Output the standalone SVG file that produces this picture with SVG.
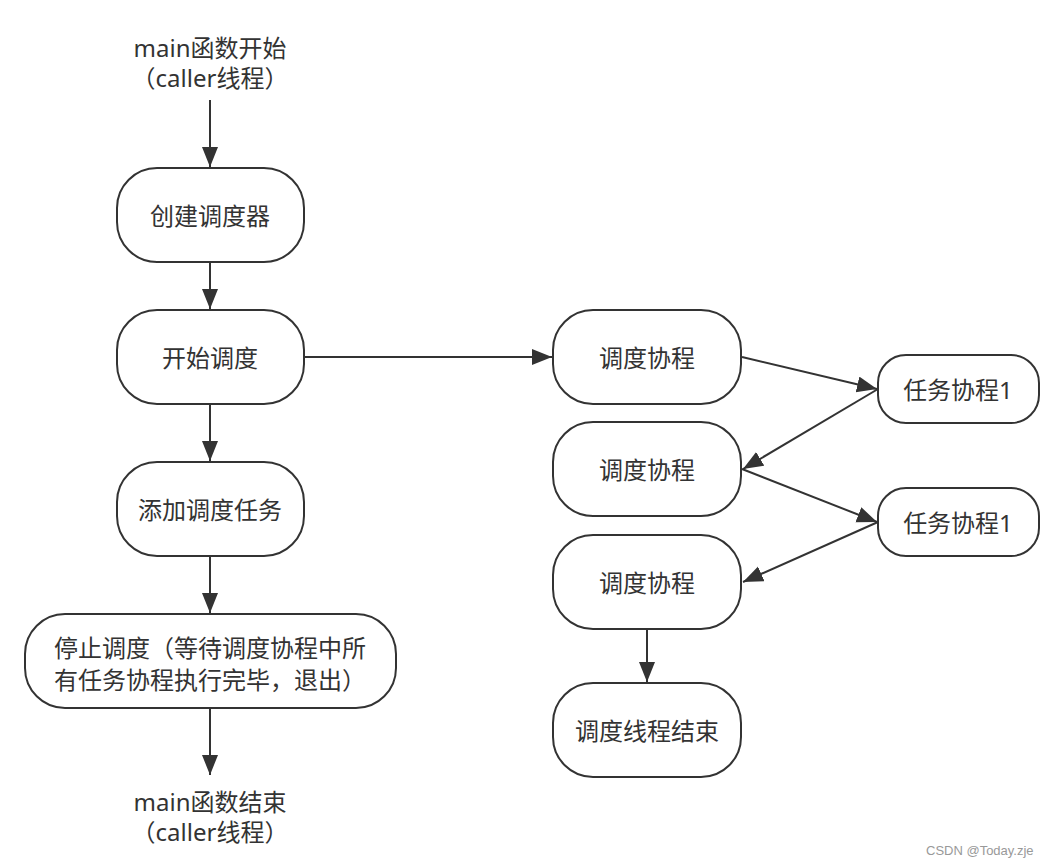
<svg xmlns="http://www.w3.org/2000/svg" width="1056" height="867" viewBox="0 0 1056 867">
<style>
.n{fill:#fff;stroke:#333;stroke-width:2}
.t{font-family:"Noto Sans","Noto Sans CJK SC",sans-serif;font-size:24px;fill:#333;text-anchor:middle;dominant-baseline:central}
.e{fill:none;stroke:#333;stroke-width:2;marker-end:url(#ah)}
.w{font-family:"Liberation Sans",sans-serif;font-size:13px;fill:#999}
</style>
<defs>
<marker id="ah" markerUnits="userSpaceOnUse" markerWidth="22" markerHeight="18" refX="20" refY="8" orient="auto">
<path d="M0,0 L20,8 L0,16 z" fill="#333"/>
</marker>
</defs>
<rect width="1056" height="867" fill="#fff"/>
<g id="connectors">
<line class="e" x1="210" y1="100" x2="210" y2="167"/>
<line class="e" x1="210" y1="263" x2="210" y2="309"/>
<line class="e" x1="210" y1="405" x2="210" y2="461"/>
<line class="e" x1="210" y1="557" x2="210" y2="613"/>
<line class="e" x1="210" y1="709" x2="210" y2="775"/>
<line class="e" x1="305" y1="357" x2="552" y2="357"/>
<line class="e" x1="742" y1="357" x2="877" y2="389"/>
<line class="e" x1="878" y1="389" x2="743" y2="469"/>
<line class="e" x1="742" y1="469" x2="877" y2="522"/>
<line class="e" x1="878" y1="522" x2="743" y2="582"/>
<line class="e" x1="647" y1="630" x2="647" y2="682"/>
</g>
<g id="start"><text class="t" x="210" y="47">main函数开始<tspan x="210" dy="30">（caller线程）</tspan></text></g>
<g id="create"><rect class="n" x="117" y="168" width="187" height="94" rx="40"/><text class="t" x="210" y="215">创建调度器</text></g>
<g id="begin"><rect class="n" x="117" y="310" width="187" height="94" rx="40"/><text class="t" x="210" y="357">开始调度</text></g>
<g id="add"><rect class="n" x="117" y="462" width="187" height="94" rx="40"/><text class="t" x="210" y="509">添加调度任务</text></g>
<g id="stop"><rect class="n" x="25" y="614" width="371" height="94" rx="40"/><text class="t" x="210" y="647">停止调度（等待调度协程中所<tspan x="210" dy="32">有任务协程执行完毕，退出）</tspan></text></g>
<g id="end"><text class="t" x="210" y="801">main函数结束<tspan x="210" dy="30">（caller线程）</tspan></text></g>
<g id="sched1"><rect class="n" x="553" y="310" width="188" height="94" rx="40"/><text class="t" x="647" y="357">调度协程</text></g>
<g id="sched2"><rect class="n" x="553" y="422" width="188" height="94" rx="40"/><text class="t" x="647" y="469">调度协程</text></g>
<g id="sched3"><rect class="n" x="553" y="535" width="188" height="94" rx="40"/><text class="t" x="647" y="582">调度协程</text></g>
<g id="schedEnd"><rect class="n" x="553" y="683" width="188" height="94" rx="40"/><text class="t" x="647" y="730">调度线程结束</text></g>
<g id="task1"><rect class="n" x="878" y="355" width="161" height="68" rx="28"/><text class="t" x="958" y="389">任务协程1</text></g>
<g id="task2"><rect class="n" x="878" y="488" width="161" height="68" rx="28"/><text class="t" x="958" y="522">任务协程1</text></g>
<text class="w" x="926" y="855">CSDN @Today.zje</text>
</svg>
